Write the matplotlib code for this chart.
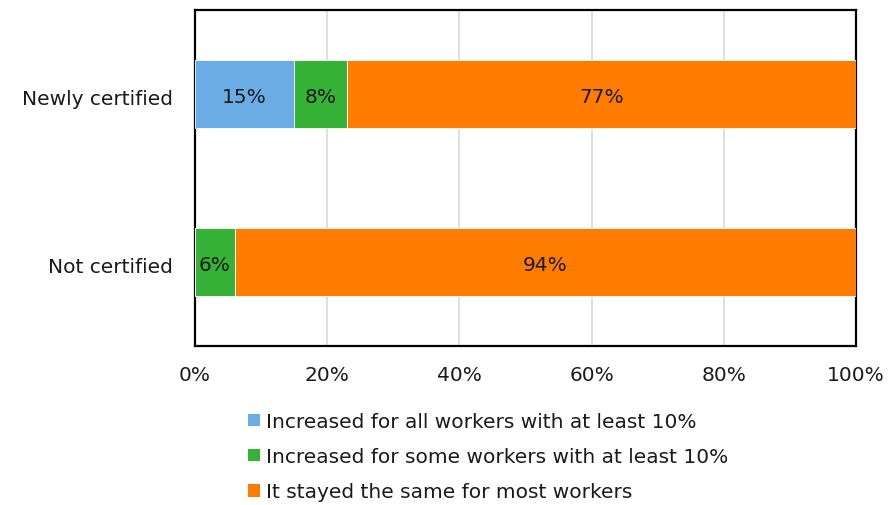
import matplotlib
matplotlib.use("Agg")
import matplotlib.pyplot as plt
from matplotlib.patches import Patch
import numpy as np

categories = ["Newly certified", "Not certified"]
series_names = [
    "Increased for all workers with at least 10%",
    "Increased for some workers with at least 10%",
    "It stayed the same for most workers",
]
all_workers = [15, 0]
some_workers = [8, 6]
stayed_same = [77, 94]
colors = ["#6AACE4", "#36B236", "#FF7C00"]
ticks = [0, 20, 40, 60, 80, 100]
tick_labels = ["0%", "20%", "40%", "60%", "80%", "100%"]

plt.rcParams["font.family"] = ["DejaVu Sans"]
FS = 14.5

fig = plt.figure(figsize=(8.88, 5.06), dpi=100)
ax = fig.add_axes([195 / 888, 1 - 347 / 506, (856 - 195) / 888, (347 - 11) / 506])

y = np.arange(len(categories))
left = np.zeros(len(categories))
for vals, col in zip([all_workers, some_workers, stayed_same], colors):
    vals = np.array(vals, dtype=float)
    ax.barh(y, vals, left=left, height=0.4, color=col, edgecolor="white", linewidth=0.6, zorder=3)
    for yi, v, l in zip(y, vals, left):
        if v > 0:
            ax.text(l + v / 2, yi + 0.015, f"{v:.0f}%", ha="center", va="center",
                    fontsize=FS, color="#1a1a1a", zorder=4)
    left += vals

ax.set_xlim(0, 100)
ax.set_ylim(1.5, -0.5)
ax.set_yticks(y + 0.015)
ax.set_yticklabels(categories, fontsize=FS, color="#1a1a1a")
ax.set_xticks(ticks)
ax.set_xticklabels(tick_labels, fontsize=FS, color="#1a1a1a")
ax.tick_params(axis="x", length=0, pad=14)
ax.tick_params(axis="y", length=0, pad=16)
ax.xaxis.grid(True, color="#d9d9d9", linewidth=1.2, zorder=0)
ax.set_axisbelow(True)
for s in ax.spines.values():
    s.set_linewidth(1.6)
    s.set_color("black")

handles = [Patch(facecolor=c, edgecolor="none") for c in colors]
fig.legend(handles, series_names, loc="upper left", bbox_to_anchor=(248 / 888, 1 - 413 / 506),
           frameon=False, fontsize=FS, handlelength=0.6, handleheight=0.6,
           handletextpad=0.3, labelspacing=0.8, borderpad=0, borderaxespad=0,
           labelcolor="#1a1a1a")

fig.savefig("out.png", dpi=100)
